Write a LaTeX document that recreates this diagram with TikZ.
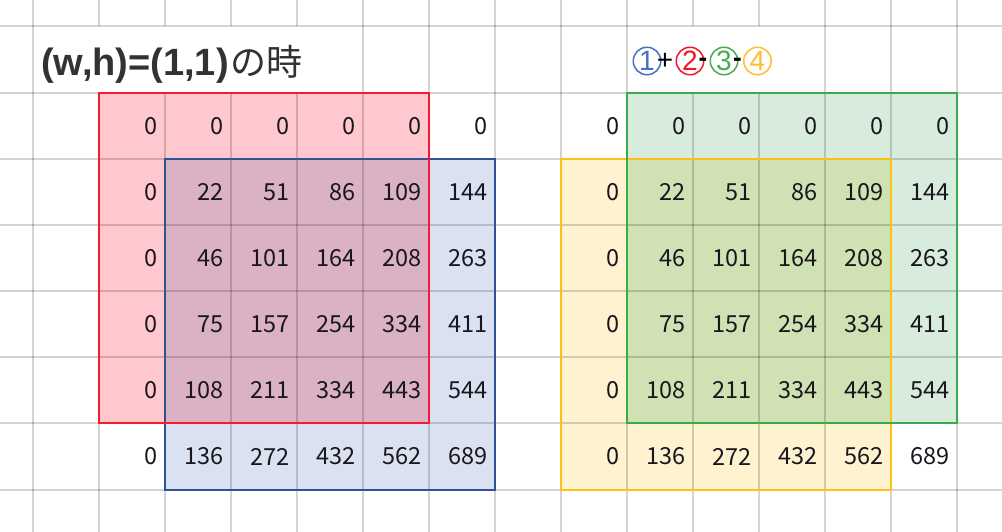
\documentclass[tikz,border=0pt]{standalone}
\usepackage{fontspec}
\setmainfont{Liberation Sans}
\newfontfamily\cjk{Noto Sans CJK JP}
\newfontfamily\numfont{Noto Sans CJK JP}
\definecolor{pinkfill}{RGB}{255,200,206}
\definecolor{bluefill}{RGB}{218,226,242}
\definecolor{mauvefill}{RGB}{219,178,195}
\definecolor{greenfill}{RGB}{215,236,221}
\definecolor{yellowfill}{RGB}{255,242,208}
\definecolor{olivefill}{RGB}{208,226,180}
\definecolor{redline}{RGB}{250,25,45}
\definecolor{blueline}{RGB}{47,84,150}
\definecolor{greenline}{RGB}{60,170,75}
\definecolor{yellowline}{RGB}{255,192,20}
\definecolor{cblue}{RGB}{68,114,196}
\definecolor{cred}{RGB}{245,20,40}
\definecolor{cgreen}{RGB}{76,170,85}
\definecolor{corange}{RGB}{255,190,50}
\definecolor{titlegray}{RGB}{50,50,50}
\definecolor{numcol}{RGB}{25,22,30}
\tikzset{
  gridline/.style={black, opacity=0.17, line width=2pt},
  boxline/.style={line width=2pt},
  num/.style={inner sep=0pt, anchor=east, text=numcol, font=\numfont\fontsize{23.5}{25}\selectfont},
  circnum/.style={circle, draw, line width=1.5pt, minimum size=27.5pt, inner sep=0pt, font=\fontsize{28}{28}\selectfont},
  sign/.style={inner sep=0pt, text=black, font=\fontsize{28}{28}\selectfont}
}
\begin{document}
\begin{tikzpicture}[x=1pt,y=-1pt]
\useasboundingbox (0,0) rectangle (1002,532);
\fill[white] (0,0) rectangle (1002,532);
% fills
\fill[pinkfill] (99,92.65) rectangle (429,423.4);
\fill[bluefill] (165,158.8) rectangle (495,489.55);
\fill[mauvefill] (165,158.8) rectangle (429,423.4);
\fill[greenfill] (627,92.65) rectangle (957,423.4);
\fill[yellowfill] (561,158.8) rectangle (891,489.55);
\fill[olivefill] (627,158.8) rectangle (891,423.4);
% horizontal grid lines
\foreach \j in {0,...,7} {
  \draw[gridline] (0,{26.5+66.15*\j}) -- (1002,{26.5+66.15*\j});
}
% vertical grid lines
\foreach \i in {0,...,14} {
  \pgfmathtruncatemacro{\xx}{33+66*\i}
  \draw[gridline] (\xx,0) -- (\xx,26.5);
  \draw[gridline] (\xx,92.65) -- (\xx,532);
}
\foreach \i in {0,5,6,7,8,9,12,13,14} {
  \pgfmathtruncatemacro{\xx}{33+66*\i}
  \draw[gridline] (\xx,26.5) -- (\xx,92.65);
}
% numbers
\foreach \vals [count=\r] in {{0,0,0,0,0,0},{0,22,51,86,109,144},{0,46,101,164,208,263},{0,75,157,254,334,411},{0,108,211,334,443,544},{0,136,272,432,562,689}} {
  \foreach \v [count=\c] in \vals {
    \node[num] (L\r-\c) at ({33+66*(\c+1)-7},{26.5+66.15*(\r+0.5)}) {\v};
    \node[num] (R\r-\c) at ({33+66*(\c+8)-7},{26.5+66.15*(\r+0.5)}) {\v};
  }
}
% borders
\draw[boxline, blueline] (165,158.8) rectangle (495,489.55);
\draw[boxline, redline] (99,92.65) rectangle (429,423.4);
\draw[boxline, yellowline] (561,158.8) rectangle (891,489.55);
\draw[boxline, greenline] (627,92.65) rectangle (957,423.4);
% title
\node[inner sep=0pt, anchor=base west, text=titlegray] (title) at (41,76)
  {\fontsize{38}{40}\selectfont\bfseries (w,h)=(1,1)\hspace{2pt}{\cjk\mdseries\fontsize{36}{40}\selectfont の時}};
% circled numbers
\node[circnum, draw=cblue, text=cblue] (c1) at (647,61) {1};
\node[circnum, draw=cred, text=cred] (c2) at (690,61) {2};
\node[circnum, draw=cgreen, text=cgreen] (c3) at (724,61) {3};
\node[circnum, draw=corange, text=corange] (c4) at (757.5,61) {4};
\node[sign] (p1) at (665,61) {+};
\node[sign, font=\bfseries\fontsize{26}{26}\selectfont] (m1) at (703,62) {-};
\node[sign, font=\bfseries\fontsize{26}{26}\selectfont] (m2) at (737.5,62) {-};
\end{tikzpicture}
\end{document}
